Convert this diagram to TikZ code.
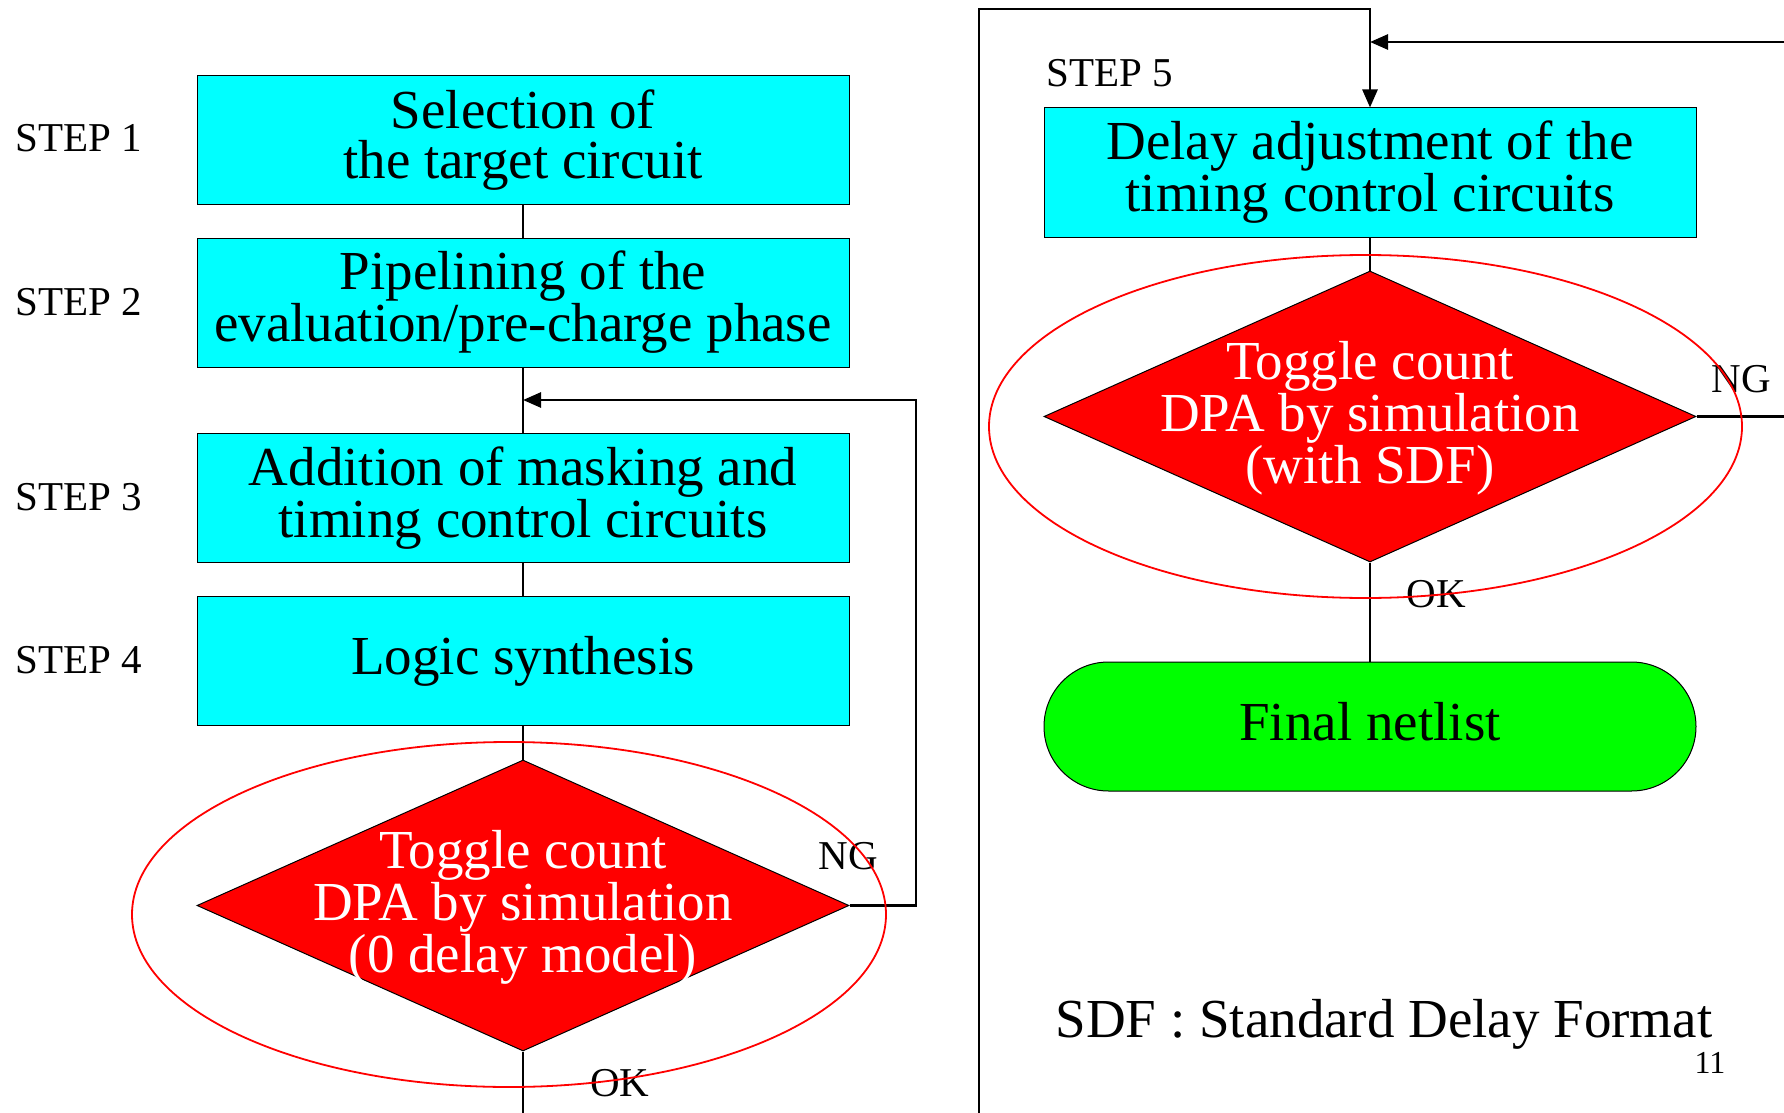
\documentclass[tikz,border=0pt]{standalone}
\usepackage{fontspec}
\setmainfont{Liberation Serif}
\usetikzlibrary{shapes.geometric,shapes.misc,arrows.meta}
\definecolor{boxcyan}{RGB}{0,255,255}
\definecolor{decred}{RGB}{255,0,0}
\definecolor{endgreen}{RGB}{0,255,0}
\begin{document}
\begin{tikzpicture}[x=0.5pt,y=-0.5pt,
  big/.style={font=\fontsize{27.5}{25}\selectfont},
  stepbox/.style={rectangle,draw=black,line width=0.5pt,fill=boxcyan,
    minimum width=326pt,minimum height=64.5pt,inner sep=0pt,align=center,big},
  decision/.style={diamond,draw=black,line width=0.5pt,fill=decred,
    minimum width=326pt,minimum height=145.5pt,inner sep=0pt},
  dectext/.style={align=center,text=white,big,inner sep=0pt},
  ring/.style={ellipse,draw=decred,line width=0.9pt,inner sep=0pt},
  terminal/.style={rounded rectangle,draw=black,line width=0.5pt,fill=endgreen,
    minimum width=326pt,minimum height=64.5pt,inner sep=0pt,big},
  steplabel/.style={anchor=west,inner sep=0pt,font=\fontsize{20.5}{24}\selectfont},
  tag/.style={inner sep=0pt,font=\fontsize{20.5}{24}\selectfont},
  flow/.style={draw=black,line width=1.3pt},
  arrowflow/.style={flow,-{Triangle[length=9pt,width=7.5pt]}}]

\useasboundingbox (0,0) rectangle (1784,1113);

% ---------- left column: steps 1-4 ----------
\node[stepbox] (s1) at (523,140) {Selection of\\the target circuit};
\node[stepbox] (s2) at (523,302.5) {Pipelining of the\\evaluation/pre-charge phase};
\node[stepbox] (s3) at (523,498) {Addition of masking and\\timing control circuits};
\node[stepbox] (s4) at (523,661) {Logic synthesis};

\node[steplabel] (l1) at (15,138) {STEP 1};
\node[steplabel] (l2) at (15,302) {STEP 2};
\node[steplabel] (l3) at (15,497) {STEP 3};
\node[steplabel] (l4) at (15,660) {STEP 4};

\node[decision] (d1) at (523,905.5) {};
\node[dectext] (t1) at (523,907) {Toggle count\\DPA by simulation\\(0 delay model)};

\coordinate (merge1) at (523,400);
\coordinate (ngturn1) at (916,905.5);
\coordinate (exit1) at (523,1113);

\draw[flow] (s1.south) -- (s2.north);
\draw[flow] (s2.south) -- (s3.north);
\draw[flow] (s3.south) -- (s4.north);
\draw[flow] (s4.south) -- (d1.north);
\draw[arrowflow] (d1.east) -- (ngturn1) |- (merge1);
\draw[flow] (d1.south) -- (exit1);

\node[tag] (ng1) at (848,856) {NG};
\node[tag] (ok1) at (620,1083) {OK};

\node[ring,minimum width=377pt,minimum height=172.5pt] (r1) at (509,914.5) {};

% ---------- right column: step 5 ----------
\node[stepbox] (s5) at (1370,172.5) {Delay adjustment of the\\timing control circuits};
\node[steplabel] (l5) at (1046,73) {STEP 5};

\node[decision] (d2) at (1370,416.5) {};
\node[dectext] (t2) at (1370,418) {Toggle count\\DPA by simulation\\(with SDF)};

\node[terminal] (fin) at (1370,726.5) {};
\node[big,inner sep=0pt] (fintext) at (1370,722) {Final netlist};

\coordinate (sepbot) at (979,1113);
\coordinate (septop) at (979,9);
\coordinate (feedtop) at (1370,9);
\coordinate (ngin2) at (1784,42);
\coordinate (merge2) at (1370,42);
\coordinate (ngout2) at (1784,416.5);

\draw[arrowflow] (sepbot) -- (septop) -- (feedtop) -- (s5.north);
\draw[arrowflow] (ngin2) -- (merge2);
\draw[flow] (s5.south) -- (d2.north);
\draw[flow] (d2.east) -- (ngout2);
\draw[flow] (d2.south) -- (fin.north);

\node[tag] (ng2) at (1741,379) {NG};
\node[tag] (ok2) at (1436,594) {OK};

\node[ring,minimum width=376.5pt,minimum height=171.5pt] (r2) at (1365.5,426.5) {};

% ---------- footnote and page number ----------
\node[big,inner sep=0pt] (sdf) at (1384,1024) {SDF : Standard Delay Format};
\node[inner sep=0pt,font=\fontsize{16}{19}\selectfont] (pg) at (1710,1063) {11};
\end{tikzpicture}
\end{document}
